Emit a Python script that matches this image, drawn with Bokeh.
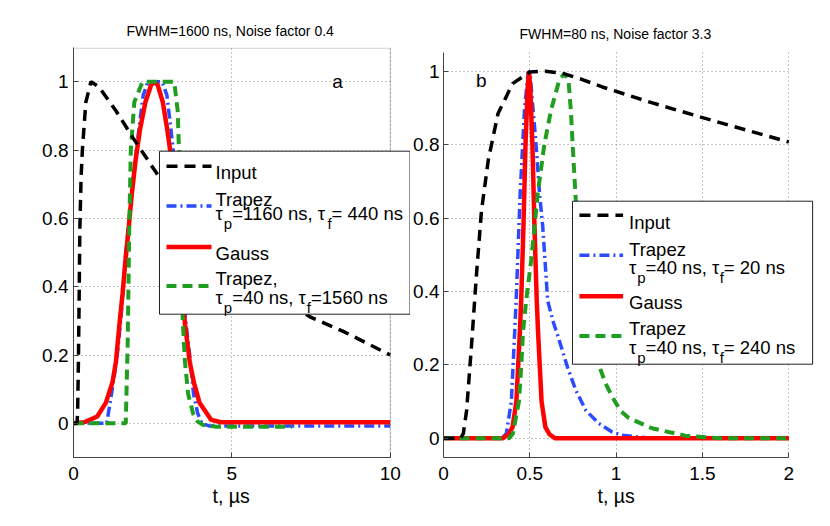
from bokeh.plotting import figure
from bokeh.layouts import row
from bokeh.models import Label, BoxAnnotation, Arrow, Title
from bokeh.embed import file_html
from bokeh.resources import INLINE

# ---------------- data: panel a (FWHM=1600 ns) ----------------
t_input_a = [0, 0.11, 0.13, 0.155, 0.18, 0.2, 0.24, 0.28, 0.39, 0.55, 0.8, 1.34, 1.87, 2.71,
             3.5, 4.5, 5.5, 6.5, 7.5, 8.5, 10]
y_input_a = [0, 0, 0.03, 0.18, 0.38, 0.57, 0.72, 0.8, 0.94, 1.0, 0.985, 0.915, 0.837, 0.72,
             0.63, 0.53, 0.45, 0.37, 0.31, 0.27, 0.2]

t_trap1_a = [0, 1.05, 1.2, 1.37, 1.5, 1.65, 1.87, 2.05, 2.2, 2.35, 2.8, 2.95, 3.15, 3.38,
             3.53, 3.68, 3.79, 3.92, 4.05, 4.3, 10]
y_trap1_a = [0, 0, 0.086, 0.19, 0.31, 0.5, 0.7, 0.85, 0.96, 1.0, 1.0, 0.96, 0.8, 0.5,
             0.31, 0.19, 0.086, 0.03, 0.0, -0.008, -0.008]

t_gauss_a = [0, 0.34, 0.75, 1.02, 1.23, 1.34, 1.44, 1.55, 1.64, 1.74, 1.84, 1.96, 2.1, 2.27,
             2.45, 2.55, 2.66, 2.82, 2.96, 3.08, 3.2, 3.32, 3.43, 3.52, 3.67, 3.8, 3.98, 4.35,
             4.66, 10]
y_gauss_a = [0, 0.003, 0.02, 0.06, 0.12, 0.18, 0.28, 0.38, 0.475, 0.57, 0.67, 0.77, 0.86, 0.94,
             0.99, 1.0, 0.99, 0.94, 0.86, 0.78, 0.66, 0.52, 0.39, 0.29, 0.18, 0.12, 0.06, 0.01,
             0.003, 0.003]

t_trap2_a = [0, 1.65, 1.71, 1.76, 1.81, 1.92, 2.18, 3.18, 3.29, 3.34, 3.40, 3.45, 3.52, 3.62,
             3.78, 3.92, 4.1, 4.5, 6.9]
y_trap2_a = [0, 0, 0.23, 0.57, 0.8, 0.94, 1.0, 1.0, 0.915, 0.77, 0.5, 0.3, 0.18, 0.086,
             0.027, 0.005, -0.005, -0.01, -0.01]

# ---------------- data: panel b (FWHM=80 ns) ----------------
t_input_b = [0, 0.1, 0.115, 0.134, 0.163, 0.19, 0.22, 0.26, 0.316, 0.40, 0.5, 0.59, 0.69,
             0.8, 0.92, 1.2, 1.49, 1.75, 2.0]
y_input_b = [0, 0, 0.013, 0.076, 0.258, 0.44, 0.62, 0.76, 0.885, 0.966, 0.998, 1.0, 0.994,
             0.978, 0.957, 0.915, 0.875, 0.84, 0.807]

t_trap1_b = [0, 0.34, 0.364, 0.393, 0.412, 0.421, 0.444, 0.469, 0.49, 0.50, 0.536, 0.556,
             0.575, 0.603, 0.632, 0.670, 0.718, 0.766, 0.824, 0.90, 0.977, 1.034, 1.2, 2.0]
y_trap1_b = [0, 0, 0.013, 0.10, 0.286, 0.376, 0.667, 0.894, 0.995, 1.0, 0.80, 0.667,
             0.576, 0.376, 0.322, 0.267, 0.194, 0.131, 0.076, 0.040, 0.017, 0.008, 0.0, 0.0]

t_gauss_b = [0, 0.345, 0.375, 0.40, 0.422, 0.442, 0.45, 0.463, 0.475, 0.487, 0.495, 0.503,
             0.515, 0.527, 0.54, 0.548, 0.568, 0.59, 0.615, 0.645, 2.0]
y_gauss_b = [0, 0, 0.01, 0.03, 0.10, 0.286, 0.376, 0.576, 0.8, 0.95, 1.0, 0.95,
             0.8, 0.576, 0.376, 0.286, 0.10, 0.03, 0.01, 0, 0]

t_trap2_b = [0, 0.38, 0.402, 0.437, 0.45, 0.46, 0.479, 0.508, 0.546, 0.584, 0.623, 0.67,
             0.70, 0.724, 0.738, 0.753, 0.766, 0.80, 0.85, 0.90, 0.939, 0.977, 1.025, 1.073,
             1.207, 1.40, 1.6, 2.0]
y_trap2_b = [0, 0, 0.013, 0.10, 0.194, 0.286, 0.376, 0.485, 0.667, 0.80, 0.894, 0.975,
             0.994, 0.975, 0.89, 0.757, 0.65, 0.47, 0.31, 0.199, 0.149, 0.113, 0.075, 0.055,
             0.027, 0.007, 0.0, 0.0]

# ---------------- texts / ticks ----------------
title_a = "FWHM=1600 ns, Noise factor 0.4"
title_b = "FWHM=80 ns, Noise factor 3.3"
xlabel = "t, µs"
xticks_a = [0, 5, 10]
xticks_b = [0, 0.5, 1, 1.5, 2]
yticks = [0, 0.2, 0.4, 0.6, 0.8, 1]

legend_a = [
    ("input", "Input", None),
    ("trap1", "Trapez", [("τ", False), ("p", True), ("=1160 ns, τ", False), ("f", True), ("= 440 ns", False)]),
    ("gauss", "Gauss", None),
    ("trap2", "Trapez,", [("τ", False), ("p", True), ("=40 ns, τ", False), ("f", True), ("=1560 ns", False)]),
]
legend_b = [
    ("input", "Input", None),
    ("trap1", "Trapez", [("τ", False), ("p", True), ("=40 ns, τ", False), ("f", True), ("= 20 ns", False)]),
    ("gauss", "Gauss", None),
    ("trap2", "Trapez", [("τ", False), ("p", True), ("=40 ns, τ", False), ("f", True), ("= 240 ns", False)]),
]

FONT = "Liberation Sans"
STY = {
    "input": dict(line_color="#000000", line_width=3.5, line_dash="11 7"),
    "trap1": dict(line_color="#2a4bff", line_width=3.5, line_dash="10 4 2 4"),
    "gauss": dict(line_color="#ff0000", line_width=4.5),
    "trap2": dict(line_color="#1f9e1f", line_width=4, line_dash="10 6"),
}

EM = {'τ': 0.45, 'p': 0.556, 'f': 0.278, '=': 0.584, ' ': 0.278, 'n': 0.556, 's': 0.5, ',': 0.278}
for d in "0123456789":
    EM[d] = 0.556
MAIN_FS = 18.5
SUB_FS = 15.0
AXIS_COL = "#444444"


def text_w(s, fs):
    return sum(EM.get(c, 0.556) for c in s) * fs


def make_panel(width, height, borders, xr, yr, xticks, xbounds, ybounds, title,
               frame_px, data_right_px, title_offset, title_standoff, xlabel_offset):
    p = figure(width=width, height=height, x_range=xr, y_range=yr,
               output_backend="svg", toolbar_location=None,
               min_border_left=borders[0], min_border_right=borders[1],
               min_border_top=borders[2], min_border_bottom=borders[3])
    p.title.text = title
    p.title.align = "left"
    p.title.offset = title_offset
    p.title.standoff = title_standoff
    p.title.text_font = FONT
    p.title.text_font_size = "14px"
    p.title.text_font_style = "normal"
    p.title.text_color = "#000000"
    p.xaxis.ticker = xticks
    p.xgrid.ticker = xticks
    p.yaxis.ticker = yticks
    p.ygrid.ticker = yticks
    p.xaxis.bounds = xbounds
    p.yaxis.bounds = ybounds
    p.xaxis.major_label_overrides = {v: ("%g" % v) for v in xticks}
    p.yaxis.major_label_overrides = {v: ("%g" % v) for v in yticks}
    for ax in (p.xaxis[0], p.yaxis[0]):
        ax.major_label_text_font = FONT
        ax.major_label_text_font_size = "19px"
        ax.major_label_text_color = "#000000"
        ax.major_tick_in = 5
        ax.major_tick_out = 0
        ax.minor_tick_in = 0
        ax.minor_tick_out = 0
        ax.axis_line_color = AXIS_COL
        ax.major_tick_line_color = AXIS_COL
    p.xaxis.major_label_standoff = 9
    p.yaxis.major_label_standoff = 5
    p.add_layout(Title(text=xlabel, align="left", offset=xlabel_offset, standoff=0,
                       text_font=FONT, text_font_size="19.5px", text_font_style="normal",
                       text_color="#000000"), "below")
    for g in (p.xgrid[0], p.ygrid[0]):
        g.grid_line_color = "#8a8a8a"
        g.grid_line_dash = "1 3"
        g.grid_line_width = 1
    p.outline_line_color = None
    p.background_fill_color = "white"
    p.border_fill_color = "white"
    L, R, T, B = frame_px
    fx = lambda px: xr[0] + (px - L) / (R - L) * (xr[1] - xr[0])
    fy = lambda py: yr[1] - (py - T) / (B - T) * (yr[1] - yr[0])
    # white cover for the grid beyond the data range on the right
    p.add_layout(BoxAnnotation(left=fx(data_right_px + 1.0), fill_color="white", fill_alpha=1.0,
                               line_color=None))
    return p, fx, fy


def draw_legend(p, fx, fy, box, sample_x, text_x, rows_spec, layout):
    p.add_layout(BoxAnnotation(left=fx(box[0]), right=fx(box[2]), top=fy(box[1]), bottom=fy(box[3]),
                               fill_color="white", fill_alpha=1.0, line_color="#222222",
                               line_width=1, line_alpha=1.0))
    for (key, first, second), (sy, b1, b2) in zip(rows_spec, layout):
        p.add_layout(Arrow(end=None, x_start=fx(sample_x[0]), y_start=fy(sy),
                           x_end=fx(sample_x[1]), y_end=fy(sy), **STY[key]))
        p.add_layout(Label(x=fx(text_x), y=fy(b1), text=first, text_font=FONT,
                           text_font_size=f"{MAIN_FS}px", text_baseline="alphabetic",
                           text_align="left", text_color="#000000"))
        if second:
            cx = text_x
            for seg, sub in second:
                fs = SUB_FS if sub else MAIN_FS
                yy = b2 + 10 if sub else b2
                p.add_layout(Label(x=fx(cx), y=fy(yy), text=seg, text_font=FONT,
                                   text_font_size=f"{fs}px", text_baseline="alphabetic",
                                   text_align="left", text_color="#000000"))
                cx += text_w(seg, fs)


H = 520
# ---------------- panel a ----------------
A_L, A_R10, A_T, A_B = 73.0, 389.7, 47.3, 457.3
A_W = 410
xa_end = 10 * (A_W - A_L) / (A_R10 - A_L)
pa, fxa, fya = make_panel(A_W, H, (73, 0, 47, 63), (0, xa_end), (-0.1, 1.1), xticks_a,
                          (0, 10), (-0.1, 1.1), title_a, (A_L, A_W, A_T, A_B), A_R10,
                          53, 17, 139)
pa.add_layout(BoxAnnotation(left=0, right=10, top=fya(A_T + 0.6), bottom=-0.1,
                            fill_color=None, fill_alpha=0, line_color=AXIS_COL, line_width=1))
pa.line(t_trap1_a, y_trap1_a, **STY["trap1"])
pa.line(t_gauss_a, y_gauss_a, **STY["gauss"])
pa.line(t_trap2_a, y_trap2_a, **STY["trap2"])
pa.line(t_input_a, y_input_a, **STY["input"])
pa.add_layout(Label(x=fxa(337), y=fya(81), text="a", text_font=FONT, text_font_size="19px",
                    text_align="center", text_baseline="middle", text_color="#000000"))
draw_legend(pa, fxa, fya, (159, 151, 409.5, 314), (166, 211), 215,
            legend_a, [(166, 172.7, 213.3), (205.7, 199.3, 213.3),
                       (246.7, 253.3, None), (285.7, 278.3, 297.3)])

# ---------------- panel b ----------------
B_OFF = A_W
B_W = 418
B_L, B_R2 = 440.0, 788.0
xb_end = 2 * (B_OFF + B_W - B_L) / (B_R2 - B_L)
yb_top = (438 - A_T) / 367.0
yb_bot = -(A_B - 438) / 367.0
pb, fxb, fyb = make_panel(B_W, H, (30, 0, 47, 63), (0, xb_end), (yb_bot, yb_top), xticks_b,
                          (0, 2), (-0.05, 1.05), title_b, (B_L, B_OFF + B_W, A_T, A_B), B_R2,
                          76, 12, 154)
pb.yaxis.major_label_standoff = 4
pb.add_layout(BoxAnnotation(bottom=1.05 + 0.002, fill_color="white", fill_alpha=1.0, line_color=None))
pb.line(t_trap1_b, y_trap1_b, **STY["trap1"])
pb.line(t_gauss_b, y_gauss_b, **STY["gauss"])
pb.line(t_trap2_b, y_trap2_b, **STY["trap2"])
pb.line(t_input_b, y_input_b, **STY["input"])
pb.add_layout(Label(x=fxb(478), y=fyb(80), text="b", text_font=FONT, text_font_size="19px",
                    text_align="center", text_baseline="middle", text_color="#000000"))
draw_legend(pb, fxb, fyb, (570, 201, 812, 364), (577, 621), 627,
            legend_b, [(215, 222.7, None), (255, 249.3, 267.3),
                       (296, 302.7, None), (335.7, 328.3, 347.3)])

layout = row(pa, pb)
open("out.html", "w").write(file_html(layout, INLINE))
